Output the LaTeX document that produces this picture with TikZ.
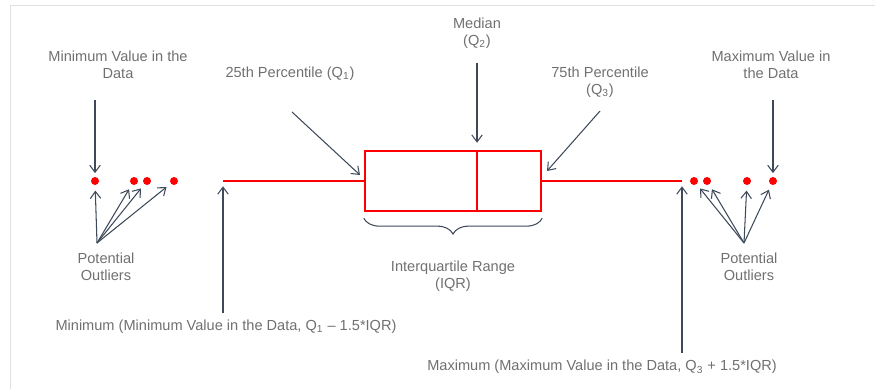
\documentclass[tikz,border=0pt]{standalone}
\usepackage{fontspec}
\setmainfont{Liberation Sans}
\usepackage{tikz}
\usetikzlibrary{positioning,arrows.meta,decorations.pathreplacing}
\definecolor{boxred}{HTML}{FF0000}
\definecolor{arrowgray}{HTML}{3E4A5A}
\definecolor{textgray}{HTML}{707070}
\definecolor{framegray}{HTML}{E0E0E0}

\begin{document}
\begin{tikzpicture}[
  x=0.02cm, y=-0.02cm,
  label/.style={text=textgray, align=center, inner sep=0pt, font=\fontsize{8.3}{9.6}\selectfont},
  outlier/.style={circle, fill=boxred, inner sep=0pt, minimum size=0.16cm},
  redline/.style={draw=boxred, line width=1.4pt},
  iqrbox/.style={rectangle, draw=boxred, line width=1.4pt, minimum width=3.52cm, minimum height=1.2cm, inner sep=0pt},
  arrow/.style={-{Straight Barb[length=4pt,width=6pt]}, draw=arrowgray, line width=0.6pt},
  brace/.style={decorate, draw=arrowgray, line width=0.6pt, decoration={brace, mirror, amplitude=9pt}}
]
\useasboundingbox (0,0) rectangle (875,389);
\draw[framegray] (10,389) -- (10,5) -- (875,5);

% box and whiskers
\node[iqrbox] (box) at (453,181) {};
\coordinate (med) at (477,181);
\coordinate (wmin) at (223,181);
\coordinate (wmax) at (682,181);
\draw[redline] (med |- box.north) -- (med |- box.south);
\draw[redline] (wmin) -- (box.west);
\draw[redline] (box.east) -- (wmax);

% outliers
\node[outlier] (l1) at (95,181) {};
\node[outlier] (l2) at (134,181) {};
\node[outlier] (l3) at (147,181) {};
\node[outlier] (l4) at (174,181) {};
\node[outlier] (r1) at (694,181) {};
\node[outlier] (r2) at (707,181) {};
\node[outlier] (r3) at (747,181) {};
\node[outlier] (r4) at (773,181) {};

% labels
\node[label] (minval) at (118,65) {Minimum Value in the\\Data};
\node[label] (q1lab) at (290,74) {25th Percentile (Q\textsubscript{1})};
\node[label] (medlab) at (477,33) {Median\\(Q\textsubscript{2})};
\node[label] (q3lab) at (600,82) {75th Percentile\\(Q\textsubscript{3})};
\node[label] (maxval) at (771,65) {Maximum Value in\\the Data};
\node[label] (outl) at (106,267) {Potential\\Outliers};
\node[label] (outr) at (749,267) {Potential\\Outliers};
\node[label] (iqr) at (453,276) {Interquartile Range\\(IQR)};
\node[label] (minlab) at (226,327) {Minimum (Minimum Value in the Data, Q\textsubscript{1} -- 1.5*IQR)};
\node[label] (maxlab) at (602,367) {Maximum (Maximum Value in the Data, Q\textsubscript{3} + 1.5*IQR)};

% arrow tails
\coordinate (q1tail) at (292,112);
\coordinate (q1tip) at (360,175);
\coordinate (q3tail) at (600,111);
\coordinate (q3tip) at (547,171);
\coordinate (lfan) at (97,243);
\coordinate (rfan) at (744,243);

\draw[arrow, shorten <=12pt, shorten >=2pt] (minval.south -| l1) -- (l1);
\draw[arrow, shorten <=12pt, shorten >=2pt] (maxval.south -| r4) -- (r4);
\draw[arrow, shorten <=8pt, shorten >=4pt] (medlab.south) -- (med |- box.north);
\draw[arrow] (q1tail) -- (q1tip);
\draw[arrow] (q3tail) -- (q3tip);
\foreach \d in {l1,l2,l3,l4} \draw[arrow, shorten >=3pt] (lfan) -- (\d);
\foreach \d in {r1,r2,r3,r4} \draw[arrow, shorten >=3pt] (rfan) -- (\d);
\draw[arrow, shorten <=4pt, shorten >=3pt] (minlab.north -| wmin) -- (wmin);
\draw[arrow, shorten <=4pt, shorten >=3pt] (maxlab.north -| wmax) -- (wmax);

% brace
\draw[brace] (box.south west) ++(0,6) coordinate (bl) -- (box.south east |- bl);
\end{tikzpicture}
\end{document}
